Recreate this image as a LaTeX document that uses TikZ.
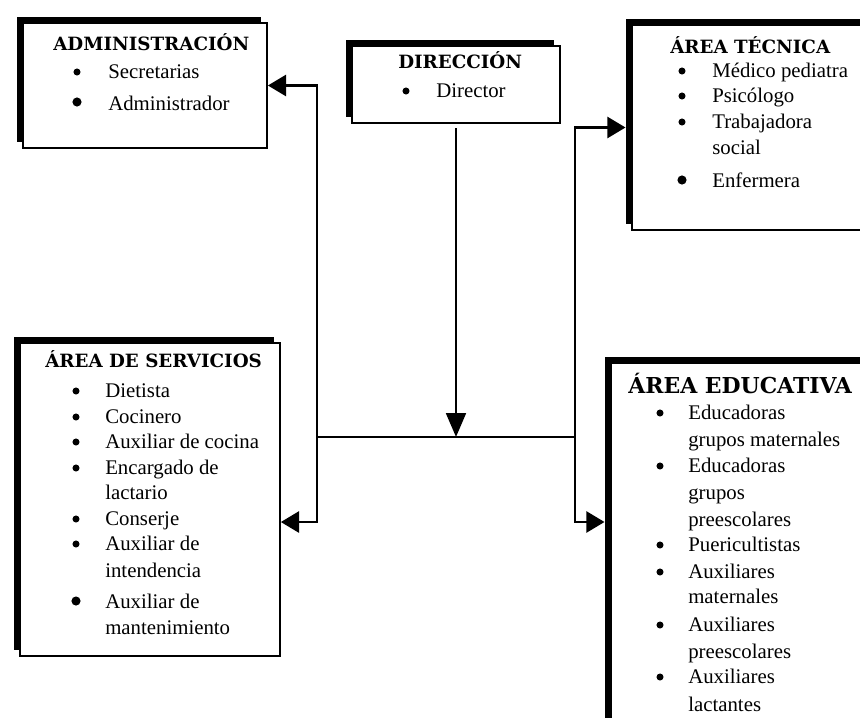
\documentclass[tikz,border=0pt]{standalone}
\usepackage{fontspec}
\setmainfont{Liberation Serif}
\newfontfamily\headfont{DejaVu Serif}
\usetikzlibrary{arrows.meta,fit,shadows,positioning}

\tikzset{
  area/.style={draw, line width=1.2pt, fill=white, inner sep=0pt,
    general shadow={fill=black, shadow xshift=-4.5pt, shadow yshift=4pt}},
  head/.style={anchor=base west, inner sep=0pt,
    font=\headfont\bfseries\fontsize{13}{15}\selectfont},
  bighead/.style={head, font=\headfont\bfseries\fontsize{15.6}{18}\selectfont},
  itm/.style={anchor=base west, inner sep=0pt, font=\fontsize{14.8}{17}\selectfont},
  dot/.style={circle, fill, inner sep=0pt, minimum size=5pt},
  bigdot/.style={dot, minimum size=6.5pt},
  link/.style={line width=2pt},
  tip/.style={link, -{Triangle[length=13pt,width=15pt]}},
}

\begin{document}
\begin{tikzpicture}[x=0.025cm, y=-0.025cm]
\clip (0,0) rectangle (860,717);
% boxes
\node[area, fit={(23,23) (267,148)}] (adm) {};
\node[area, fit={(352,46) (560,123)}] (dir) {};
\node[area, fit={(632,25) (880,230)}] (tec) {};
\node[area, fit={(20,343) (280,656)}] (srv) {};
\node[area, fit={(611,363) (880,740)}] (edu) {};

% titles
\node[head] (adm-t) at (53,50) {ADMINISTRACIÓN};
\node[head] (dir-t) at (398,68) {DIRECCIÓN};
\node[head] (tec-t) at (670,53) {ÁREA TÉCNICA};
\node[head] (srv-t) at (45,367) {ÁREA DE SERVICIOS};
\node[bighead] (edu-t) at (628,393) {ÁREA EDUCATIVA};

% items
\node[dot] (adm-b1) at (77,72) {};
\node[itm] (adm-i1) at (108,78) {Secretarias};
\node[bigdot] (adm-b2) at (77,102) {};
\node[itm] (adm-i2) at (108,110) {Administrador};
\node[dot] (dir-b1) at (406,91) {};
\node[itm] (dir-i1) at (436,97) {Director};
\foreach \n/\y/\t in {1/77/Médico pediatra, 2/102/Psicólogo, 3/128/Trabajadora}
  {\node[dot] (tec-b\n) at (682,\y-6) {};
   \node[itm] (tec-i\n) at (712,\y) {\t};}
\node[itm] (tec-c1) at (712,154) {social};
\node[bigdot] (tec-b4) at (682,180) {};
\node[itm] (tec-i4) at (712,187) {Enfermera};
\foreach \n/\y/\t in {1/397/Dietista, 2/423/Cocinero, 3/448/Auxiliar de cocina, 4/474/Encargado de,
    5/525/Conserje, 6/550/Auxiliar de}
  {\node[dot] (srv-b\n) at (76,\y-6) {};
   \node[itm] (srv-i\n) at (105,\y) {\t};}
\node[bigdot] (srv-b7) at (76,601) {};
\node[itm] (srv-i7) at (105,608) {Auxiliar de};
\foreach \n/\y/\t in {1/499/lactario, 2/577/intendencia, 3/634/mantenimiento}
  {\node[itm] (srv-c\n) at (105,\y) {\t};}
\foreach \n/\y/\t in {1/419/Educadoras, 2/472/Educadoras, 3/551/Puericultistas, 4/578/Auxiliares,
    5/631/Auxiliares, 6/683/Auxiliares}
  {\node[dot] (edu-b\n) at (660,\y-6) {};
   \node[itm] (edu-i\n) at (688,\y) {\t};}
\foreach \n/\y/\t in {1/446/grupos maternales, 2/499/grupos, 3/526/preescolares, 4/603/maternales,
    5/658/preescolares, 6/711/lactantes}
  {\node[itm] (edu-c\n) at (688,\y) {\t};}

% connectors
\coordinate (jl) at (317,437);
\coordinate (jr) at (575,437);
\coordinate (sl) at (317,522);
\coordinate (sr) at (575,522);
\draw[tip, shorten <=3pt, -{Triangle[length=17pt,width=14pt]}] (dir.south) -- (dir.south |- jl);
\draw[link] (jl) -- (jr);
\draw[tip] (jl) |- (adm.east);
\draw[tip] (jl) -- (sl) -- (sl -| srv.east);
\draw[tip, shorten >=4pt] (jr) |- (tec.west);
\draw[tip, shorten >=4pt] (jr) -- (sr) -- (sr -| edu.west);
\end{tikzpicture}
\end{document}
